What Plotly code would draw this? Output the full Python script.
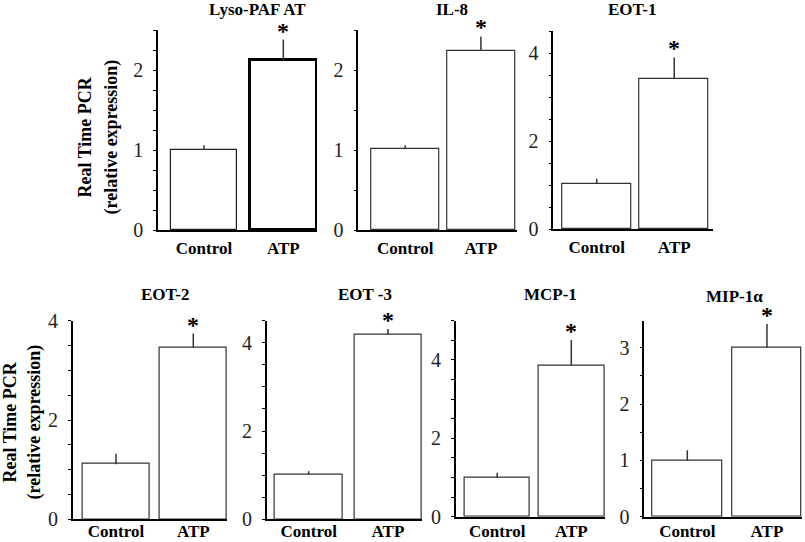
import plotly.graph_objects as go

W, H = 805, 542

categories = ["Control", "ATP"]
panel_titles = ["Lyso-PAF AT", "IL-8", "EOT-1", "EOT-2", "EOT -3", "MCP-1", "MIP-1α"]
control_means = [1.00, 1.01, 1.02, 1.11, 1.02, 0.99, 1.00]
control_errs = [0.06, 0.05, 0.12, 0.21, 0.07, 0.13, 0.18]
atp_means = [2.12, 2.24, 3.42, 3.46, 4.19, 3.86, 3.00]
atp_errs = [0.26, 0.18, 0.48, 0.28, 0.12, 0.65, 0.42]
y_tick_step = [1, 1, 2, 2, 2, 2, 1]
y_minor_step = [0.25, 0.5, 0.5, 0.5, 0.5, 0.5, 0.5]
y_max = [2.5, 2.5, 4.5, 4.0, 4.5, 5.0, 3.48]
significance = ["*", "*", "*", "*", "*", "*", "*"]
y_title_line1 = "Real Time PCR"
y_title_line2 = "(relative expression)"

# layout geometry in pixels: x_left, x_right, y_zero, y_top, x-range lo, hi, bar width,
# title centre x, title centre y, category label standoff
panels = [
    dict(xl=158.0, xr=317.0, y0=230.0, yt=30.0, lo=-0.58, hi=1.425, bw=0.84, tx=257, ty=10, so=2),
    dict(xl=358.3, xr=516.5, y0=230.0, yt=30.0, lo=-0.62, hi=1.47, bw=0.90, tx=452, ty=10, so=2),
    dict(xl=553.3, xr=713.0, y0=229.0, yt=31.0, lo=-0.56, hi=1.50, bw=0.89, tx=632, ty=10, so=2),
    dict(xl=72.7, xr=227.0, y0=519.3, yt=320.7, lo=-0.56, hi=1.436, bw=0.86, tx=165, ty=294, so=-4),
    dict(xl=266.7, xr=422.0, y0=519.3, yt=320.7, lo=-0.53, hi=1.43, bw=0.85, tx=365, ty=294, so=-4),
    dict(xl=455.7, xr=605.0, y0=516.7, yt=320.7, lo=-0.56, hi=1.455, bw=0.89, tx=550, ty=294, so=-2),
    dict(xl=644.3, xr=802.0, y0=516.7, yt=320.7, lo=-0.54, hi=1.44, bw=0.87, tx=734, ty=296, so=-2),
]

FONT = "Liberation Serif"

fig = go.Figure()
annotations = []
layout_axes = {}

for i, p in enumerate(panels):
    n = "" if i == 0 else str(i + 1)
    line_w = [1.2, 3.0] if i == 0 else [1.2, 1.2]
    line_c = ["#222", "#000"] if i == 0 else ["#333", "#333"]
    fig.add_trace(go.Bar(
        x=categories,
        y=[control_means[i], atp_means[i]],
        width=p["bw"],
        marker=dict(color="white", line=dict(color=line_c, width=line_w)),
        error_y=dict(type="data", symmetric=False,
                     array=[control_errs[i], atp_errs[i]], arrayminus=[0, 0],
                     width=0, thickness=1.5, color="#333"),
        xaxis="x" + n, yaxis="y" + n, showlegend=False, hoverinfo="skip",
    ))
    layout_axes["xaxis" + n] = dict(
        domain=[p["xl"] / W, p["xr"] / W], anchor="y" + n,
        type="category", range=[p["lo"], p["hi"]], automargin=False,
        showline=True, linecolor="#000", linewidth=1.5,
        ticks="", showgrid=False, zeroline=False,
        tickfont=dict(family=FONT, size=17, color="#000", weight="bold"),
        ticklabelstandoff=p["so"],
    )
    layout_axes["yaxis" + n] = dict(
        domain=[1 - p["y0"] / H, 1 - p["yt"] / H], anchor="x" + n,
        range=[0, y_max[i]], dtick=y_tick_step[i], tick0=0, automargin=False,
        showline=True, linecolor="#000", linewidth=1.5,
        ticks="outside", ticklen=3, tickwidth=1, tickcolor="#000",
        minor=dict(dtick=y_minor_step[i], ticks="outside", ticklen=3, tickcolor="#000"),
        showgrid=False, zeroline=False,
        tickfont=dict(family=FONT, size=20, color="#222"),
        ticklabelstandoff=6,
    )
    annotations.append(dict(
        text=panel_titles[i], x=p["tx"] / W, y=1 - p["ty"] / H,
        xref="paper", yref="paper", xanchor="center", yanchor="middle",
        showarrow=False, font=dict(family=FONT, size=17, color="#000", weight="bold"),
    ))
    annotations.append(dict(
        text=significance[i], x=categories[1], y=atp_means[i] + atp_errs[i],
        xref="x" + n, yref="y" + n, xanchor="center", yanchor="bottom",
        yshift=-6, showarrow=False,
        font=dict(family=FONT, size=24, color="#000", weight="bold"),
    ))

for (x1, x2, yc) in [(85, 111, 137.5), (9, 34, 422.5)]:
    annotations.append(dict(
        text=y_title_line1, x=x1 / W, y=1 - yc / H, xref="paper", yref="paper",
        xanchor="center", yanchor="middle", textangle=-90, showarrow=False,
        font=dict(family=FONT, size=18, color="#000", weight="bold"),
    ))
    annotations.append(dict(
        text=y_title_line2, x=x2 / W, y=1 - yc / H, xref="paper", yref="paper",
        xanchor="center", yanchor="middle", textangle=-90, showarrow=False,
        font=dict(family=FONT, size=18, color="#000", weight="bold"),
    ))

fig.update_layout(
    template="none",
    width=W, height=H, margin=dict(l=0, r=0, t=0, b=0, autoexpand=False),
    paper_bgcolor="white", plot_bgcolor="white",
    annotations=annotations, bargap=0, **layout_axes,
)

fig.write_html("out.html", config={"displayModeBar": False},
               post_script="document.body.style.margin='0';")
